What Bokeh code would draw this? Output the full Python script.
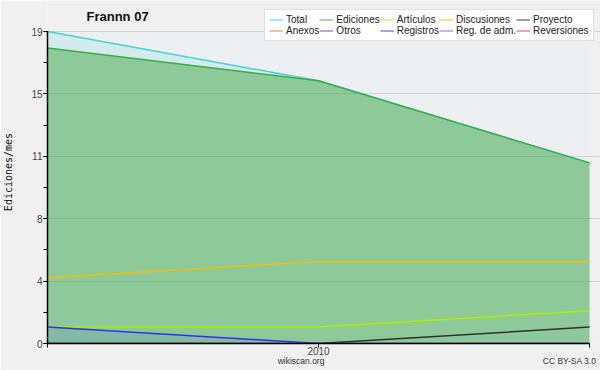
from bokeh.plotting import figure
from bokeh.models import (Range1d, FixedTicker, CustomJSTickFormatter, Legend,
                          LegendItem, Label, LinearAxis, BoxAnnotation)
from bokeh.embed import file_html
from bokeh.resources import INLINE

# ---- data ----
months = [0, 1, 2]
x_tick_labels = {0: "", 1: "2010", 2: ""}
footer_labels = ["wikiscan.org", "CC BY-SA 3.0"]
total = [19, 16, 11]
ediciones = [18, 16, 11]
articulos = [1, 1, 2]
discusiones = [4, 5, 5]
proyecto = [0, 0, 1]
anexos = []
otros = []
registros = [1, 0, 0]
reg_adm = []
reversiones = []
y_max = 19

series = [
    ("Total", total, "#3dd6d2"),
    ("Ediciones", ediciones, "#34b040"),
    ("Artículos", articulos, "#a6f000"),
    ("Discusiones", discusiones, "#f0c000"),
    ("Proyecto", proyecto, "#303030"),
    ("Anexos", anexos, "#f07030"),
    ("Otros", otros, "#7030c0"),
    ("Registros", registros, "#3030f0"),
    ("Reg. de adm.", reg_adm, "#c040e0"),
    ("Reversiones", reversiones, "#e03030"),
]

# ---- layout geometry (pixels) ----
FIG_W, FIG_H = 600, 370
FRAME_LEFT, PLOT_RIGHT, PLOT_TOP, FRAME_BOTTOM = 46, 589, 31, 343
FOOTER_CENTERS_PX = [300, 569]
x_span = months[-1] - months[0]
x_end = months[-1] + x_span * (FIG_W - PLOT_RIGHT) / (PLOT_RIGHT - FRAME_LEFT)
y_end = y_max * FRAME_BOTTOM / (FRAME_BOTTOM - PLOT_TOP)


def px_to_x(px):
    return months[0] + (px - FRAME_LEFT) * x_span / (PLOT_RIGHT - FRAME_LEFT)


footer_pos = [px_to_x(v) for v in FOOTER_CENTERS_PX]

p = figure(width=FIG_W, height=FIG_H, output_backend="svg", toolbar_location=None,
           x_range=Range1d(months[0], x_end), y_range=Range1d(0, y_end),
           min_border_left=FRAME_LEFT, min_border_right=0, min_border_top=0,
           min_border_bottom=FIG_H - FRAME_BOTTOM)
p.title = None
p.background_fill_color = "#f0f0f0"
p.border_fill_color = "#f0f0f0"
p.outline_line_color = None

# plot-area background
p.add_layout(BoxAnnotation(left=months[0], right=months[-1], bottom=0, top=y_max,
                           fill_color="#eeeff2", fill_alpha=1.0, line_color=None,
                           level="image"))

# fills
p.varea(x=months, y1=0, y2=total, fill_color="#3dd6d2", fill_alpha=0.15)
p.varea(x=months, y1=0, y2=ediciones, fill_color="#4aa848", fill_alpha=0.5)
p.varea(x=months, y1=0, y2=registros, fill_color="#3030f0", fill_alpha=0.09)

nan = float("nan")
items = []
for name, vals, col in series:
    if vals:
        p.line(x=months[:len(vals)], y=vals, line_color=col, line_width=1.5)
    proxy = p.line(x=[nan], y=[nan], line_color=col, line_width=1.5, line_alpha=0.6)
    items.append(LegendItem(label=name, renderers=[proxy]))

# axes
p.yaxis.ticker = FixedTicker(ticks=[y_max * k / 5 for k in range(6)],
                             minor_ticks=[y_max * k / 10 for k in range(11)])
p.yaxis.formatter = CustomJSTickFormatter(code="return Math.round(tick).toString();")
p.yaxis.bounds = (0, y_max)
p.xaxis.ticker = FixedTicker(ticks=months, minor_ticks=[])
p.xaxis.major_label_overrides = x_tick_labels
p.xaxis.bounds = (months[0], months[-1])
for ax in (p.xaxis, p.yaxis):
    ax.axis_line_color = "black"
    ax.axis_line_width = 1.5
    ax.major_tick_line_color = "black"
    ax.minor_tick_line_color = "black"
    ax.major_tick_in = 0
    ax.major_tick_out = 4
    ax.minor_tick_in = 0
    ax.minor_tick_out = 4
    ax.major_label_text_font = "Liberation Sans"
    ax.major_label_text_font_size = "10px"
    ax.major_label_text_color = "#444444"
    ax.major_label_standoff = 1
p.xaxis.major_label_standoff = -1
p.xaxis.axis_label_standoff = 0
p.yaxis.axis_label = "Ediciones/mes"
p.yaxis.axis_label_text_font = "DejaVu Sans Mono"
p.yaxis.axis_label_text_font_style = "normal"
p.yaxis.axis_label_text_font_size = "10px"
p.yaxis.axis_label_text_color = "#111111"
p.yaxis.axis_label_standoff = 14
p.xgrid.visible = False
p.ygrid.grid_line_color = "#9a9a9a"
p.ygrid.grid_line_alpha = 0.35
p.ygrid.bounds = (months[0], months[-1])

# footer (second axis carrying the credit texts)
foot = LinearAxis(ticker=FixedTicker(ticks=footer_pos, minor_ticks=[]),
                  major_label_overrides=dict(zip(footer_pos, footer_labels)),
                  axis_line_color=None, major_tick_line_color=None,
                  minor_tick_line_color=None, major_tick_out=0, major_tick_in=0,
                  major_label_text_font="Liberation Sans",
                  major_label_text_font_size="8.5px",
                  major_label_text_color="#333333",
                  major_label_standoff=-2, axis_label_standoff=0)
p.add_layout(foot, "below")

# title
p.add_layout(Label(x=months[0], y=y_max, x_offset=39, y_offset=15,
                   text="Frannn 07", text_baseline="middle",
                   text_font="Liberation Sans", text_font_size="13px",
                   text_font_style="bold", text_color="#111111"))

# legend
legend = Legend(items=items, location=(263 - FRAME_LEFT, FRAME_BOTTOM - 41),
                nrows=2, orientation="horizontal",
                label_text_font="Liberation Sans", label_text_font_size="10px",
                label_text_color="#222222", glyph_width=14, glyph_height=9,
                label_height=9, label_standoff=3, spacing=0, padding=4, margin=0,
                border_line_color="#c0c0c0", background_fill_color="white",
                background_fill_alpha=1.0)
p.add_layout(legend, "center")

open("out.html", "w").write(file_html(p, INLINE))
